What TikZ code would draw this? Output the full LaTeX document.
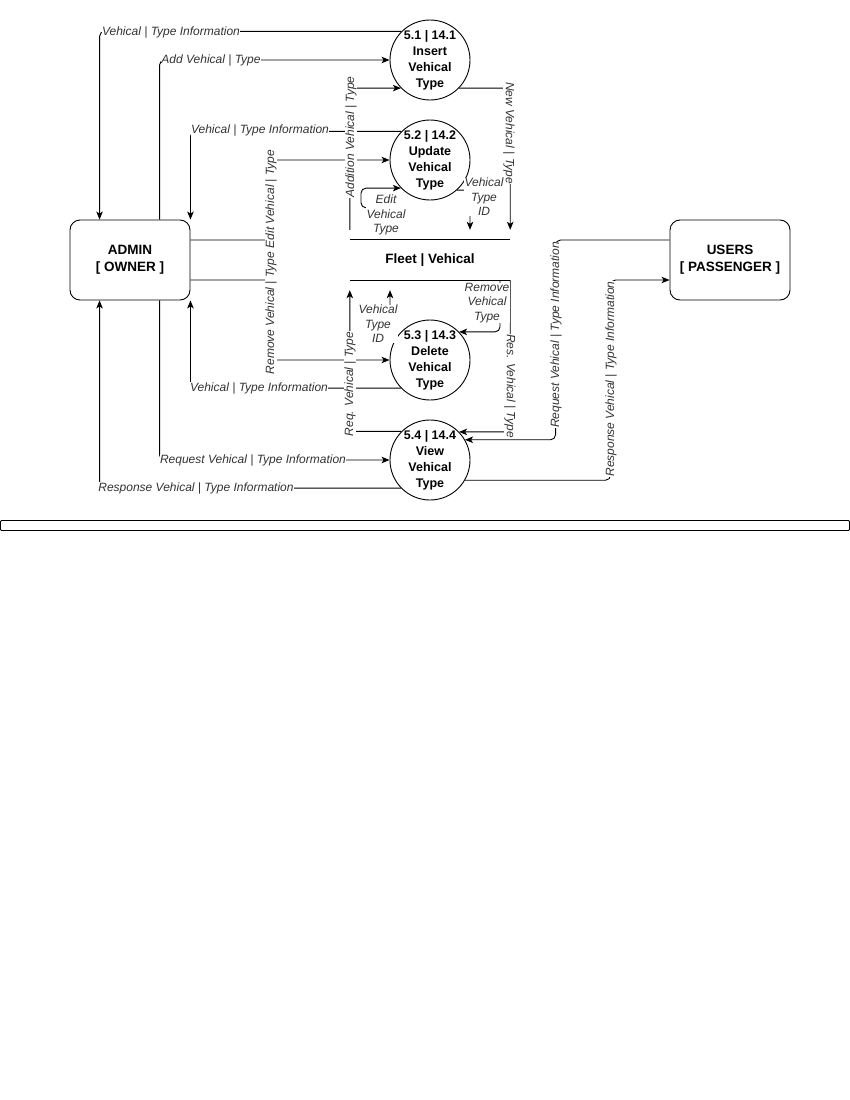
\documentclass[tikz,border=0pt]{standalone}
\usepackage{fontspec}
\setmainfont{Liberation Sans}
\usetikzlibrary{arrows.meta,calc}
\begin{document}
\begin{tikzpicture}[x=1pt,y=-1pt,
  flow/.style={draw=black, line width=0.9pt, rounded corners=5pt, -{Stealth[length=8pt,width=6.5pt,inset=2pt]}},
  proc/.style={circle, draw, line width=0.9pt, minimum size=80pt, inner sep=0pt},
  ptext/.style={font=\fontsize{12.5}{16}\selectfont\bfseries, align=center, inner sep=0pt},
  ent/.style={rectangle, rounded corners=10pt, draw, line width=0.9pt, minimum width=120pt, minimum height=80pt, font=\fontsize{13.5}{17}\selectfont\bfseries, align=center},
  lbl/.style={font=\fontsize{12}{14.5}\selectfont\itshape, text=black!80, fill=white, inner sep=0.5pt, align=center}]
\useasboundingbox (0,0) rectangle (850,1100);

% entities
\node[ent] (adm) at (130,260) {ADMIN\\{[} OWNER {]}};
\node[ent] (usr) at (730,260) {USERS\\{[} PASSENGER {]}};

% processes
\node[proc] (c1) at (430,60) {};
\node[ptext] (c1t) at (c1) {5.1 | 14.1\\Insert\\Vehical\\Type};
\node[proc] (c2) at (430,160) {};
\node[ptext] (c2t) at (c2) {5.2 | 14.2\\Update\\Vehical\\Type};
\node[proc] (c3) at (430,360) {};
\node[ptext] (c3t) at (c3) {5.3 | 14.3\\Delete\\Vehical\\Type};
\node[proc] (c4) at (430,460) {};
\node[ptext] (c4t) at (c4) {5.4 | 14.4\\View\\Vehical\\Type};

% data store
\node[minimum width=160pt, minimum height=60pt, inner sep=0pt, font=\fontsize{13.5}{16}\selectfont\bfseries] (store) at (430,260) {Fleet | Vehical};
\draw[line width=0.9pt] ([yshift=-10pt]store.north west) -- ([yshift=-10pt]store.north east);
\draw[line width=0.9pt] ([yshift=10pt]store.south west) -- ([yshift=10pt]store.south east);

% bottom bar
\node[draw, line width=0.9pt, rounded corners=1pt, minimum width=849pt, minimum height=10pt, inner sep=0pt] (bar) at (425,525.5) {};

% admin connectors
\draw[flow] (c1.135.6) -| ([xshift=30pt]adm.north west);
\draw[flow] ([xshift=90pt]adm.north west) |- (c1.west);
\draw[flow] (c2.135.6) -| (adm.north east);
\draw[flow] ([yshift=20pt]adm.east) -- ++(81,0) |- (c2.west);
\draw[flow] ([yshift=-20pt]adm.east) -- ++(81,0) |- (c3.west);
\draw[flow] (c3.224.4) -| (adm.south east);
\draw[flow] ([xshift=90pt]adm.south west) |- (c4.west);
\draw[flow] (c4.224.4) -| ([xshift=30pt]adm.south west);

% store connectors
\draw[flow] (store.north west) |- (c1.224.4);
\draw[flow] (c1.-44.4) -| (store.north east);
\draw[flow] ([xshift=-44pt]store.north) -- ++(0,-22) -- ++(-25,0) |- (c2.224.4);
\draw[flow] (c2.-48.6) -| ([xshift=40pt]store.north);
\draw[flow] (c3.150) -| ([xshift=-40pt]store.south);
\draw[flow] (c4.135.6) -| (store.south west);
\draw[flow] ([xshift=70pt,yshift=10pt]store.south) |- (c3.44.4);
\draw[flow] ([yshift=10pt]store.south east) |- (c4.44.4);

% users connectors
\draw[flow] ([yshift=20pt]usr.west) -- ++(-114,0) |- (c4.30);
\draw[flow] (c4.-30) -| ([xshift=-59pt,yshift=-20pt]usr.west) -- ([yshift=-20pt]usr.west);

% labels
\node[lbl] (l1) at (171,32) {Vehical | Type Information};
\node[lbl] (l2) at (211,60) {Add Vehical | Type};
\node[lbl] (l3) at (260,130) {Vehical | Type Information};
\node[lbl] (l6) at (259,388) {Vehical | Type Information};
\node[lbl] (l7) at (253,460) {Request Vehical | Type Information};
\node[lbl] (l8) at (196,488) {Response Vehical | Type Information};
\node[lbl, rotate=90] (l4) at (271,199) {Edit Vehical | Type};
\node[lbl, rotate=90] (l5) at (271,313) {Remove Vehical | Type};
\node[lbl, rotate=90] (la) at (351,137) {Addition Vehical | Type};
\node[lbl, rotate=-90] (ln) at (509,133) {New Vehical | Type};
\node[lbl] (le) at (386,215) {Edit\\Vehical\\Type};
\node[lbl] (lid1) at (484,197) {Vehical\\Type\\ID};
\node[lbl] (lid2) at (378,324) {Vehical\\Type\\ID};
\node[lbl] (lrm) at (487,303) {Remove\\Vehical\\Type};
\node[lbl, rotate=90] (lrq) at (350,384) {Req. Vehical | Type};
\node[lbl, rotate=-90] (lrs) at (510,386) {Res. Vehical | Type};
\node[lbl, rotate=90] (lur) at (556,335) {Request Vehical | Type Information};
\node[lbl, rotate=90] (lus) at (611,379) {Response Vehical | Type Information};
\end{tikzpicture}
\end{document}
